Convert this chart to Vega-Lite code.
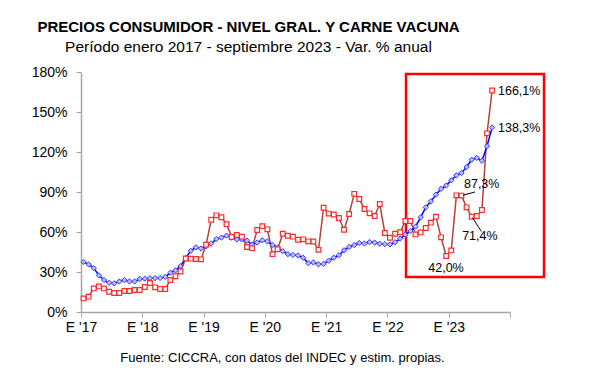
{
  "$schema": "https://vega.github.io/schema/vega-lite/v6.json",
  "width": 429,
  "height": 240,
  "autosize": {"type": "none"},
  "padding": {"left": 81, "top": 72, "right": 79, "bottom": 69},
  "background": "white",
  "config": {
    "view": {"stroke": null},
    "font": "Liberation Sans",
    "axis": {"grid": false, "domainColor": "#a6a6a6", "tickColor": "#a6a6a6", "labelColor": "black", "labelFont": "Liberation Sans", "labelFontSize": 14, "titleFont": "Liberation Sans", "labelOverlap": false, "labelFlush": false}
  },
  "title": {
    "text": "PRECIOS CONSUMIDOR - NIVEL GRAL. Y CARNE VACUNA",
    "subtitle": "Período enero 2017 - septiembre 2023 - Var. % anual",
    "anchor": "middle",
    "frame": "group",
    "dx": -47,
    "offset": 10,
    "font": "Liberation Sans",
    "fontSize": 15,
    "fontWeight": "bold",
    "color": "black",
    "subtitleFont": "Liberation Sans",
    "subtitleFontSize": 15.5,
    "subtitleColor": "black",
    "subtitlePadding": 5
  },
  "datasets": {
    "series": [
      {"mes": 1, "nivel": 37.6, "carne": 10.2},
      {"mes": 2, "nivel": 35.7, "carne": 11.5},
      {"mes": 3, "nivel": 32.9, "carne": 17.7},
      {"mes": 4, "nivel": 27.5, "carne": 19.2},
      {"mes": 5, "nivel": 24.0, "carne": 17.7},
      {"mes": 6, "nivel": 21.9, "carne": 15.2},
      {"mes": 7, "nivel": 21.5, "carne": 14.2},
      {"mes": 8, "nivel": 22.9, "carne": 14.2},
      {"mes": 9, "nivel": 24.0, "carne": 15.7},
      {"mes": 10, "nivel": 22.9, "carne": 15.7},
      {"mes": 11, "nivel": 22.9, "carne": 16.5},
      {"mes": 12, "nivel": 24.8, "carne": 16.5},
      {"mes": 13, "nivel": 25.0, "carne": 18.7},
      {"mes": 14, "nivel": 25.4, "carne": 21.7},
      {"mes": 15, "nivel": 25.4, "carne": 18.5},
      {"mes": 16, "nivel": 25.5, "carne": 17.2},
      {"mes": 17, "nivel": 26.3, "carne": 17.3},
      {"mes": 18, "nivel": 29.5, "carne": 24.0},
      {"mes": 19, "nivel": 31.2, "carne": 26.8},
      {"mes": 20, "nivel": 34.4, "carne": 30.3},
      {"mes": 21, "nivel": 40.5, "carne": 40.1},
      {"mes": 22, "nivel": 45.9, "carne": 40.0},
      {"mes": 23, "nivel": 48.5, "carne": 39.7},
      {"mes": 24, "nivel": 47.6, "carne": 39.5},
      {"mes": 25, "nivel": 49.3, "carne": 50.5},
      {"mes": 26, "nivel": 51.3, "carne": 69.2},
      {"mes": 27, "nivel": 54.7, "carne": 72.5},
      {"mes": 28, "nivel": 55.8, "carne": 71.1},
      {"mes": 29, "nivel": 57.3, "carne": 65.9},
      {"mes": 30, "nivel": 55.8, "carne": 56.3},
      {"mes": 31, "nivel": 54.4, "carne": 57.8},
      {"mes": 32, "nivel": 54.5, "carne": 56.4},
      {"mes": 33, "nivel": 53.5, "carne": 48.8},
      {"mes": 34, "nivel": 50.5, "carne": 47.9},
      {"mes": 35, "nivel": 52.1, "carne": 61.5},
      {"mes": 36, "nivel": 53.8, "carne": 64.4},
      {"mes": 37, "nivel": 52.9, "carne": 62.0},
      {"mes": 38, "nivel": 50.3, "carne": 43.4},
      {"mes": 39, "nivel": 48.4, "carne": 47.1},
      {"mes": 40, "nivel": 45.6, "carne": 58.7},
      {"mes": 41, "nivel": 43.4, "carne": 57.2},
      {"mes": 42, "nivel": 42.8, "carne": 56.5},
      {"mes": 43, "nivel": 42.4, "carne": 54.2},
      {"mes": 44, "nivel": 40.7, "carne": 54.5},
      {"mes": 45, "nivel": 36.6, "carne": 53.0},
      {"mes": 46, "nivel": 37.2, "carne": 52.9},
      {"mes": 47, "nivel": 35.8, "carne": 46.6},
      {"mes": 48, "nivel": 36.1, "carne": 78.2},
      {"mes": 49, "nivel": 38.5, "carne": 73.8},
      {"mes": 50, "nivel": 40.7, "carne": 73.1},
      {"mes": 51, "nivel": 42.6, "carne": 70.5},
      {"mes": 52, "nivel": 46.3, "carne": 61.7},
      {"mes": 53, "nivel": 48.8, "carne": 73.5},
      {"mes": 54, "nivel": 50.2, "carne": 88.6},
      {"mes": 55, "nivel": 51.8, "carne": 84.7},
      {"mes": 56, "nivel": 51.4, "carne": 77.3},
      {"mes": 57, "nivel": 52.5, "carne": 74.0},
      {"mes": 58, "nivel": 52.1, "carne": 72.0},
      {"mes": 59, "nivel": 51.2, "carne": 81.0},
      {"mes": 60, "nivel": 50.9, "carne": 59.2},
      {"mes": 61, "nivel": 50.7, "carne": 55.7},
      {"mes": 62, "nivel": 52.3, "carne": 58.7},
      {"mes": 63, "nivel": 55.1, "carne": 59.8},
      {"mes": 64, "nivel": 58.0, "carne": 68.2},
      {"mes": 65, "nivel": 60.7, "carne": 68.2},
      {"mes": 66, "nivel": 64.0, "carne": 58.2},
      {"mes": 67, "nivel": 71.0, "carne": 59.7},
      {"mes": 68, "nivel": 78.5, "carne": 63.0},
      {"mes": 69, "nivel": 83.0, "carne": 67.0},
      {"mes": 70, "nivel": 88.0, "carne": 71.5},
      {"mes": 71, "nivel": 92.4, "carne": 56.0},
      {"mes": 72, "nivel": 94.8, "carne": 42.0},
      {"mes": 73, "nivel": 98.8, "carne": 46.2},
      {"mes": 74, "nivel": 102.5, "carne": 87.5},
      {"mes": 75, "nivel": 104.3, "carne": 87.3},
      {"mes": 76, "nivel": 108.8, "carne": 78.5},
      {"mes": 77, "nivel": 114.2, "carne": 71.4},
      {"mes": 78, "nivel": 115.6, "carne": 72.0},
      {"mes": 79, "nivel": 113.4, "carne": 76.5},
      {"mes": 80, "nivel": 124.4, "carne": 134.0},
      {"mes": 81, "nivel": 138.3, "carne": 166.1}
    ],
    "etiquetas_der": [
      {"mes": 82.15, "v": 166.1, "texto": "166,1%"},
      {"mes": 82.15, "v": 138.3, "texto": "138,3%"}
    ],
    "etiquetas_centro": [
      {"mes": 78.96, "v": 95.8, "texto": "87,3%"},
      {"mes": 78.6, "v": 57.2, "texto": "71,4%"},
      {"mes": 71.97, "v": 33.0, "texto": "42,0%"}
    ],
    "guias": [
      {"mes": 75.3, "mes2": 77.65, "v": 87.6, "v2": 90.0},
      {"mes": 77.1, "mes2": 78.9, "v": 71.0, "v2": 60.4}
    ],
    "recuadro": [
      {"mes": 64.14, "mes2": 91.16, "v": 178.5, "v2": 26.2}
    ]
  },
  "layer": [
    {
      "data": {"name": "recuadro"},
      "mark": {"type": "rect", "fill": null, "stroke": "#ff0000", "strokeWidth": 2.5, "clip": false},
      "encoding": {
        "x": {"field": "mes", "type": "quantitative"},
        "x2": {"field": "mes2"},
        "y": {"field": "v", "type": "quantitative"},
        "y2": {"field": "v2"}
      }
    },
    {
      "data": {"name": "series"},
      "mark": {"type": "line", "color": "#b5403c", "strokeWidth": 1.5},
      "encoding": {
        "x": {"field": "mes", "type": "quantitative",
          "scale": {"domain": [0.5, 84.5], "nice": false, "zero": false},
          "axis": {
            "values": [0.5, 12.5, 24.5, 36.5, 48.5, 60.5, 72.5, 84.5],
            "tickCount": 20,
            "labelExpr": "datum.value < 80 ? \"E '\" + (17 + floor(datum.value / 12)) : ''",
            "labelOverlap": false,
            "labelFlush": false,
            "tickSize": 5,
            "labelPadding": 3,
            "domainWidth": 1.5,
            "title": "Fuente: CICCRA, con datos del INDEC y estim. propias.",
            "titleFontSize": 13,
            "titleFontWeight": "normal",
            "titleColor": "black",
            "titleX": 201,
            "titleY": 45,
            "titleAlign": "center",
            "titleBaseline": "middle"
          }
        },
        "y": {"field": "carne", "type": "quantitative",
          "scale": {"domain": [0, 180], "nice": false},
          "axis": {
            "values": [0, 30, 60, 90, 120, 150, 180],
            "tickCount": 20,
            "labelExpr": "datum.value + '%'",
            "labelOverlap": false,
            "labelFlush": false,
            "tickSize": 5,
            "labelPadding": 9,
            "domainWidth": 1.5,
            "title": null
          }
        }
      }
    },
    {
      "data": {"name": "series"},
      "mark": {"type": "line", "color": "#0000ff", "strokeWidth": 1.5},
      "encoding": {
        "x": {"field": "mes", "type": "quantitative"},
        "y": {"field": "nivel", "type": "quantitative"}
      }
    },
    {
      "data": {"name": "series"},
      "mark": {"type": "point", "shape": "diamond", "size": 28, "filled": true, "fill": "#b8bcff", "stroke": "#3b3bff", "strokeWidth": 1, "opacity": 1},
      "encoding": {
        "x": {"field": "mes", "type": "quantitative"},
        "y": {"field": "nivel", "type": "quantitative"}
      }
    },
    {
      "data": {"name": "series"},
      "mark": {"type": "point", "shape": "square", "size": 22, "filled": true, "fill": "white", "stroke": "#ff2a2a", "strokeWidth": 1.2, "opacity": 1},
      "encoding": {
        "x": {"field": "mes", "type": "quantitative"},
        "y": {"field": "carne", "type": "quantitative"}
      }
    },
    {
      "data": {"name": "guias"},
      "mark": {"type": "rule", "color": "black", "strokeWidth": 1},
      "encoding": {
        "x": {"field": "mes", "type": "quantitative"},
        "x2": {"field": "mes2"},
        "y": {"field": "v", "type": "quantitative"},
        "y2": {"field": "v2"}
      }
    },
    {
      "data": {"name": "etiquetas_der"},
      "mark": {"type": "text", "fontSize": 12.5, "font": "Liberation Sans", "color": "black", "baseline": "middle", "align": "left"},
      "encoding": {
        "x": {"field": "mes", "type": "quantitative"},
        "y": {"field": "v", "type": "quantitative"},
        "text": {"field": "texto"}
      }
    },
    {
      "data": {"name": "etiquetas_centro"},
      "mark": {"type": "text", "fontSize": 12.5, "font": "Liberation Sans", "color": "black", "baseline": "middle", "align": "center"},
      "encoding": {
        "x": {"field": "mes", "type": "quantitative"},
        "y": {"field": "v", "type": "quantitative"},
        "text": {"field": "texto"}
      }
    }
  ]
}
